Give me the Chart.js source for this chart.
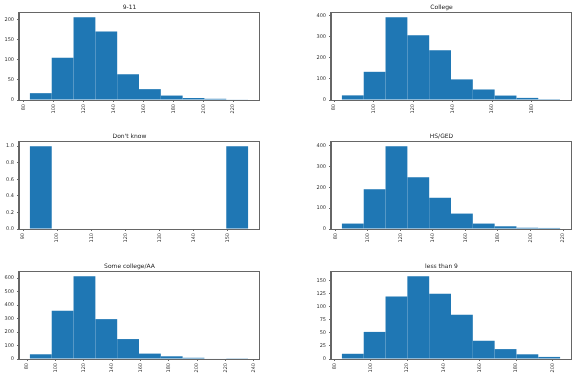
<!DOCTYPE html>
<html>
<head>
<meta charset="utf-8">
<script src="https://cdn.jsdelivr.net/npm/chart.js@4.4.0/dist/chart.umd.min.js"></script>
<style>
  html, body { margin: 0; padding: 0; background: #fff; }
  body { width: 576px; height: 378px; position: relative; overflow: hidden; }
  .cell { position: absolute; }
</style>
</head>
<body>
<script>
// ---- Data (pandas hist, 10 bins each) ----
const titles = ["9-11", "College", "Don't know", "HS/GED", "Some college/AA", "less than 9"];

const edges911 = [84, 98.6, 113.2, 127.8, 142.4, 157.0, 171.6, 186.2, 200.8, 215.4, 230.0];
const counts911 = [17, 105, 206, 170, 64, 27, 11, 5, 3, 1];

const edgesCollege = [84, 95.04, 106.08, 117.12, 128.16, 139.2, 150.24, 161.28, 172.32, 183.36, 194.4];
const countsCollege = [22, 134, 394, 308, 237, 98, 50, 21, 10, 4];

const edgesDontKnow = [92, 98.4, 104.8, 111.2, 117.6, 124, 130.4, 136.8, 143.2, 149.6, 156];
const countsDontKnow = [1, 0, 0, 0, 0, 0, 0, 0, 0, 1];

const edgesHS = [84, 97.42, 110.84, 124.26, 137.68, 151.1, 164.52, 177.94, 191.36, 204.78, 218.2];
const countsHS = [26, 191, 398, 249, 150, 74, 26, 13, 6, 5];

const edgesSomeCollege = [82, 97.4, 112.8, 128.2, 143.6, 159, 174.4, 189.8, 205.2, 220.6, 236];
const countsSomeCollege = [35, 358, 615, 296, 148, 40, 20, 9, 4, 2];

const edgesLess9 = [84, 96.03, 108.06, 120.09, 132.12, 144.15, 156.18, 168.21, 180.24, 192.27, 204.3];
const countsLess9 = [10, 52, 120, 159, 125, 85, 35, 19, 9, 4];

const xTickSteps = [20, 20, 10, 20, 20, 20];
const yTickSteps = [50, 100, 0.2, 100, 100, 25];

const panels = [
  { title: titles[0], edges: edges911, counts: counts911, xs: xTickSteps[0], ys: yTickSteps[0] },
  { title: titles[1], edges: edgesCollege, counts: countsCollege, xs: xTickSteps[1], ys: yTickSteps[1] },
  { title: titles[2], edges: edgesDontKnow, counts: countsDontKnow, xs: xTickSteps[2], ys: yTickSteps[2], dec: 1 },
  { title: titles[3], edges: edgesHS, counts: countsHS, xs: xTickSteps[3], ys: yTickSteps[3] },
  { title: titles[4], edges: edgesSomeCollege, counts: countsSomeCollege, xs: xTickSteps[4], ys: yTickSteps[4] },
  { title: titles[5], edges: edgesLess9, counts: countsLess9, xs: xTickSteps[5], ys: yTickSteps[5] }
];

// ---- Layout ----
const colLeft = [0, 312];
const rowTop = [0, 129, 259];
const CW = 264, CH = 122;
const FONT = "'DejaVu Sans', sans-serif";
const SPINE = '#666';

const framePlugin = {
  id: 'frame',
  afterDraw(chart) {
    const a = chart.chartArea, ctx = chart.ctx;
    ctx.save();
    ctx.strokeStyle = SPINE;
    ctx.lineWidth = 1;
    ctx.strokeRect(Math.round(a.left) - 0.5, Math.round(a.top) - 0.5,
                   Math.round(a.right - a.left) + 1, Math.round(a.bottom - a.top) + 1);
    ctx.restore();
  }
};

panels.forEach((p, i) => {
  const div = document.createElement('div');
  div.className = 'cell';
  div.style.left = colLeft[i % 2] + 'px';
  div.style.top = rowTop[Math.floor(i / 2)] + 'px';
  const cv = document.createElement('canvas');
  cv.width = CW; cv.height = CH;
  cv.style.width = CW + 'px'; cv.style.height = CH + 'px';
  div.appendChild(cv);
  document.body.appendChild(div);

  const lo = p.edges[0], hi = p.edges[p.edges.length - 1];
  const pad = (hi - lo) * 0.05;
  const pts = p.counts.map((c, k) => ({ x: (p.edges[k] + p.edges[k + 1]) / 2, y: c }));
  const ymax = Math.max(...p.counts) * 1.05;

  new Chart(cv, {
    type: 'bar',
    data: {
      datasets: [{
        data: pts,
        backgroundColor: '#1f77b4',
        borderWidth: 0,
        inflateAmount: 0,
        barPercentage: 1.0,
        categoryPercentage: 1.0
      }]
    },
    options: {
      responsive: false,
      animation: false,
      devicePixelRatio: 1,
      layout: { padding: { left: 0, right: 5, top: 0, bottom: 0 } },
      plugins: {
        legend: { display: false },
        tooltip: { enabled: false },
        title: {
          display: true,
          text: p.title,
          color: '#222',
          font: { size: 6, family: FONT, weight: 'normal' },
          padding: { top: 3.5, bottom: 2.3 }
        }
      },
      scales: {
        x: {
          type: 'linear',
          offset: false,
          min: lo - pad,
          max: hi + pad,
          ticks: {
            stepSize: p.xs,
            includeBounds: false,
            autoSkip: false,
            minRotation: 90,
            maxRotation: 90,
            padding: 2,
            color: '#333',
            font: { size: 5, family: FONT }
          },
          grid: { offset: false, drawOnChartArea: false, drawTicks: true, tickLength: 2, color: SPINE },
          border: { display: true, color: SPINE },
          afterFit: (s) => { s.height = 22; }
        },
        y: {
          min: 0,
          max: ymax,
          ticks: {
            stepSize: p.ys,
            includeBounds: false,
            padding: 3,
            color: '#333',
            font: { size: 5, family: FONT },
            callback: (v) => p.dec ? Number(v).toFixed(p.dec) : String(Math.round(v))
          },
          grid: { drawOnChartArea: false, drawTicks: true, tickLength: 2, color: SPINE },
          border: { display: true, color: SPINE },
          afterFit: (s) => { s.width = 19; }
        }
      }
    },
    plugins: [framePlugin]
  });
});
</script>
</body>
</html>
